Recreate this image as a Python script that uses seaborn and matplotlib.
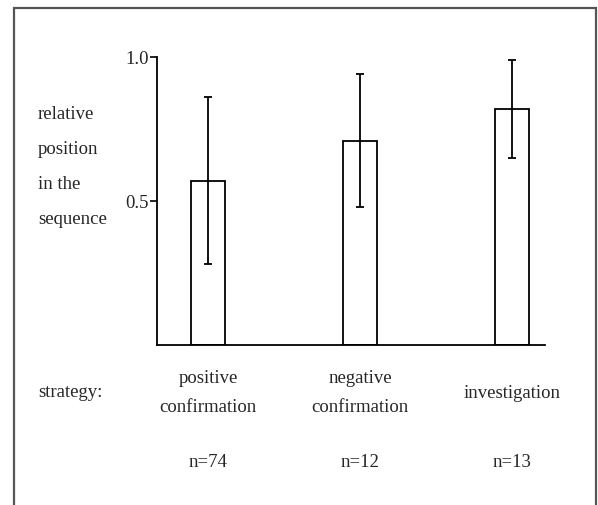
import matplotlib
matplotlib.use("Agg")
import matplotlib.pyplot as plt
import seaborn as sns
import pandas as pd
from matplotlib.patches import Rectangle

# values
strategies = ["positive\nconfirmation", "negative\nconfirmation", "investigation"]
means = [0.57, 0.71, 0.82]
spread = [0.29, 0.23, 0.17]
counts = ["n=74", "n=12", "n=13"]

sns.set_theme(style="white")
plt.rcParams["font.family"] = ["Liberation Serif", "DejaVu Serif"]
fs = 13.5

df = pd.DataFrame({"strategy": strategies, "position": means})

fig = plt.figure(figsize=(5.98, 5.06), dpi=100)
ax = fig.add_axes([157 / 598, 1 - 346 / 506, (545 - 157) / 598, 288 / 506])

sns.barplot(data=df, x="strategy", y="position", order=strategies,
            fill=False, edgecolor="black", linewidth=1.3, width=0.22,
            errorbar=None, ax=ax)
ax.errorbar(range(len(means)), means, yerr=spread, fmt="none",
            ecolor="black", elinewidth=1.3, capsize=3, capthick=1.3)

ax.set_ylim(0, 1.0)
ax.set_xlim(-0.336, 2.217)
ax.set_yticks([0.5, 1.0])
ax.set_yticklabels(["0.5", "1.0"], fontsize=fs)
ax.tick_params(axis="y", length=5, width=1.2, color="black", pad=1, left=True)
ax.set_xticks(range(len(strategies)))
ax.set_xticklabels(strategies, fontsize=fs, linespacing=1.9)
ax.tick_params(axis="x", length=0, pad=34)
for lab in ax.get_xticklabels():
    lab.set_va("center")
ax.set_xlabel("")
ax.set_ylabel("")
sns.despine(ax=ax)
for side in ["left", "bottom"]:
    ax.spines[side].set_color("black")
    ax.spines[side].set_linewidth(1.3)

for i, c in enumerate(counts):
    ax.text(i, -0.405, c, ha="center", va="center", fontsize=fs)

fig.text(38 / 598, 1 - 167 / 506, "relative\nposition\nin the\nsequence",
         ha="left", va="center", fontsize=fs, linespacing=2.4)
fig.text(38 / 598, 1 - 393 / 506, "strategy:", ha="left", va="center",
         fontsize=fs)

fig.patches.append(Rectangle((14 / 598, -0.05), (596 - 14) / 598,
                             1.05 - 9 / 506, transform=fig.transFigure,
                             fill=False, edgecolor="#555555", linewidth=1.6))

fig.savefig("out.png", dpi=100)
